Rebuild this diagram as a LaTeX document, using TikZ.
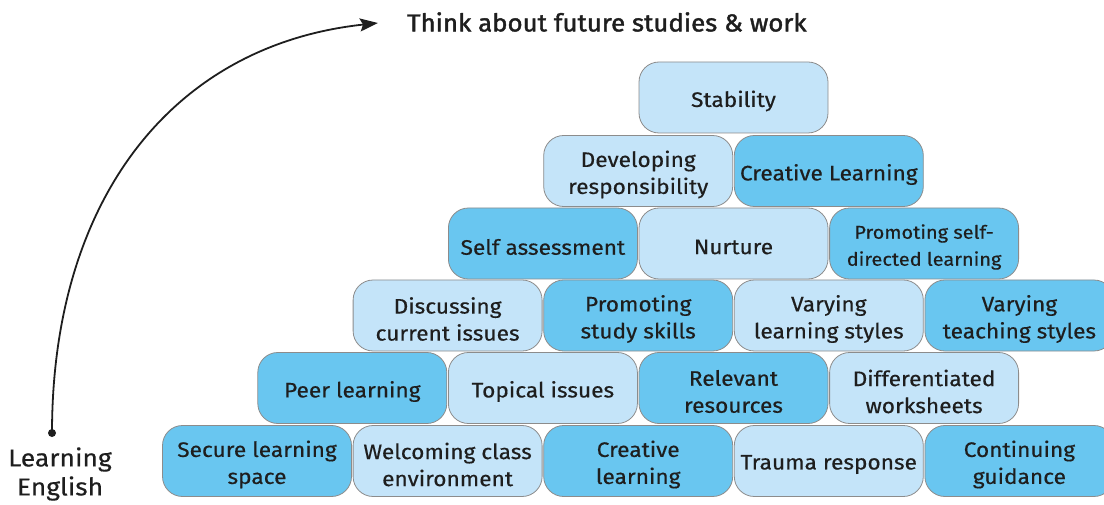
\documentclass[tikz,border=0pt]{standalone}
\usepackage{fontspec}
\setmainfont{Fira Sans}[FakeStretch=1.08,FakeBold=0.4]
\newfontfamily\titlefont{Fira Sans}[FakeBold=1.6,FakeStretch=1.05]
\usetikzlibrary{arrows.meta}
\definecolor{lightbox}{HTML}{C4E4F9}
\definecolor{darkbox}{HTML}{69C6F0}
\definecolor{boxline}{HTML}{8C8C8C}
\definecolor{ink}{HTML}{1E1E1E}
\begin{document}
\begin{tikzpicture}[x=1pt,y=-1pt,
  box/.style={draw=boxline, line width=0.8pt, rounded corners=20pt,
    minimum width=189pt, minimum height=71pt, inner sep=0pt},
  lbox/.style={box, fill=lightbox},
  dbox/.style={box, fill=darkbox},
  txt/.style={align=center, inner sep=0pt, text=ink, yshift=-3.5pt,
    font=\fontsize{21}{27}\selectfont},
  txtsmall/.style={txt, font=\fontsize{18.5}{27}\selectfont},
  arrowline/.style={line width=1.8pt, ink, -{Stealth[length=18pt,width=13pt,inset=3pt]}}]
\useasboundingbox (0,0) rectangle (1104,505);
\clip (0,0) rectangle (1104,505);
% Row 1
\node[lbox, label={[txt]center:{Stability}}] (stab) at (733.5,97.5) {};
% Row 2
\node[lbox, label={[txt]center:{Developing\\responsibility}}] (devr) at (638.2,171) {};
\node[dbox, label={[txt]center:{Creative Learning}}] (crea) at (828.8,171) {};
% Row 3
\node[dbox, label={[txt]center:{Self assessment}}] (self) at (542.9,243.5) {};
\node[lbox, label={[txt]center:{Nurture}}] (nurt) at (733.5,243.5) {};
\node[dbox, label={[txtsmall]center:{Promoting self-\\directed learning}}] (psdl) at (924.1,243.5) {};
% Row 4
\node[lbox, label={[txt]center:{Discussing\\current issues}}] (disc) at (447.6,315.5) {};
\node[dbox, label={[txt]center:{Promoting\\study skills}}] (pss) at (638.2,315.5) {};
\node[lbox, label={[txt]center:{Varying\\learning styles}}] (vls) at (828.8,315.5) {};
\node[dbox, label={[txt]center:{Varying\\teaching styles}}] (vts) at (1019.4,315.5) {};
% Row 5
\node[dbox, label={[txt]center:{Peer learning}}] (peer) at (352.3,388) {};
\node[lbox, label={[txt]center:{Topical issues}}] (topi) at (542.9,388) {};
\node[dbox, label={[txt]center:{Relevant\\resources}}] (rele) at (733.5,388) {};
\node[lbox, label={[txt]center:{Differentiated\\worksheets}}] (diff) at (924.1,388) {};
% Row 6
\node[dbox, label={[txt]center:{Secure learning\\space}}] (secu) at (257,461) {};
\node[lbox, label={[txt]center:{Welcoming class\\environment}}] (welc) at (447.6,461) {};
\node[dbox, label={[txt]center:{Creative\\learning}}] (crel) at (638.2,461) {};
\node[lbox, label={[txt]center:{Trauma response}}] (trau) at (828.8,461) {};
\node[dbox, label={[txt]center:{Continuing\\guidance}}] (cont) at (1019.4,461) {};
% Title and label
\node[anchor=west, inner sep=0pt, text=ink, font=\titlefont\fontsize{24.6}{29}\selectfont] (title) at (407,22) {Think about future studies \& work};
\node[align=center, inner sep=0pt, text=ink, font=\fontsize{24.5}{29}\selectfont] (learn) at (60,474) {Learning\\English};
% Arrow
\node[circle, fill=ink, inner sep=0pt, minimum size=8pt] (dot) at (52,433) {};
\coordinate (tip) at (378,23);
\draw[arrowline] (dot.center) .. controls (52,200) and (172,45) .. (tip);
\end{tikzpicture}
\end{document}
